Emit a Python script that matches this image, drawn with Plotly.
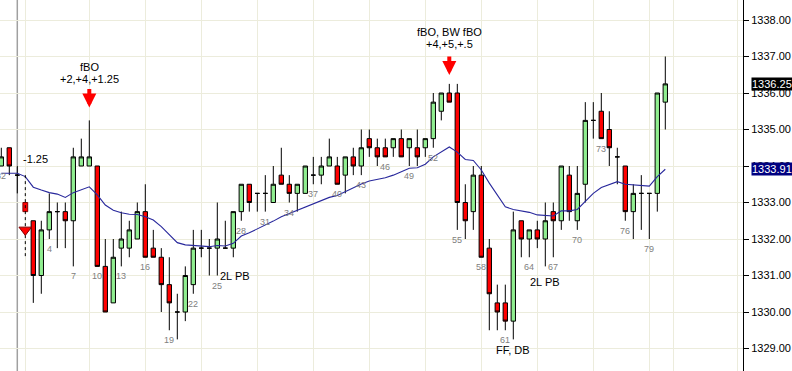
import plotly.graph_objects as go

# ---------------- data ----------------
bar_index = list(range(-2, 82))
opens = [1334.0, 1334.5, 1333.75, 1333.0, 1332.5, 1331.0, 1332.25, 1332.75, 1332.75, 1332.5,
         1334.0, 1334.0, 1334.0, 1331.25, 1330.25, 1331.75, 1331.75, 1332.0, 1332.75, 1331.75,
         1331.5, 1330.75, 1330.0, 1330.0, 1330.75, 1331.75, 1331.75, 1331.75, 1331.75, 1331.75,
         1332.75, 1333.5, 1333.25, 1333.25, 1333.0, 1333.75, 1333.5, 1333.25, 1333.25, 1333.75,
         1333.75, 1334.0, 1334.0, 1333.75, 1334.25, 1334.0, 1334.75, 1334.5, 1334.5, 1334.5,
         1334.75, 1334.5, 1334.5, 1334.5, 1334.75, 1335.5, 1336.0, 1336.0, 1333.0, 1332.75,
         1333.75, 1331.75, 1330.25, 1330.25, 1329.75, 1332.5, 1332.0, 1332.25, 1332.0, 1332.75,
         1332.5, 1333.75, 1332.5, 1333.5, 1335.25, 1335.5, 1335.0, 1334.25, 1334.0, 1332.75,
         1333.25, 1333.25, 1333.25, 1335.75]
highs = [1334.5, 1334.5, 1334.0, 1333.75, 1332.5, 1332.5, 1333.25, 1333.0, 1333.0, 1334.5,
         1334.75, 1335.25, 1334.0, 1332.0, 1332.0, 1332.75, 1332.5, 1333.0, 1333.5, 1332.25,
         1331.75, 1331.5, 1330.5, 1331.25, 1332.25, 1332.25, 1332.0, 1333.0, 1332.5, 1332.75,
         1333.5, 1333.5, 1333.25, 1333.75, 1334.0, 1334.5, 1333.75, 1333.5, 1334.0, 1334.25,
         1334.25, 1334.75, 1334.25, 1334.25, 1334.5, 1335.0, 1335.0, 1334.75, 1334.75, 1334.75,
         1335.0, 1334.75, 1335.0, 1334.75, 1336.0, 1336.0, 1336.25, 1336.25, 1333.5, 1334.0,
         1334.0, 1332.0, 1330.75, 1330.75, 1332.75, 1332.5, 1332.25, 1332.5, 1333.0, 1333.0,
         1334.0, 1334.0, 1334.0, 1335.75, 1335.75, 1336.0, 1335.5, 1334.5, 1334.0, 1333.5,
         1333.75, 1333.25, 1336.0, 1337.0]
lows = [1334.0, 1333.75, 1333.25, 1331.5, 1330.25, 1330.5, 1332.0, 1331.75, 1331.75, 1331.25,
        1334.0, 1334.0, 1331.25, 1330.0, 1330.25, 1331.25, 1331.5, 1332.0, 1331.5, 1331.5,
        1330.0, 1329.5, 1329.25, 1329.75, 1330.5, 1331.5, 1331.0, 1331.0, 1331.75, 1331.5,
        1332.5, 1332.75, 1332.75, 1332.75, 1333.0, 1333.5, 1333.0, 1332.75, 1333.25, 1333.5,
        1333.5, 1334.0, 1333.5, 1333.25, 1333.75, 1333.75, 1334.25, 1334.0, 1334.25, 1334.25,
        1334.25, 1334.0, 1334.0, 1334.25, 1334.5, 1335.25, 1335.75, 1332.25, 1332.0, 1332.25,
        1331.5, 1329.5, 1329.5, 1329.5, 1329.25, 1331.5, 1331.5, 1331.75, 1331.25, 1331.5,
        1332.25, 1332.5, 1332.25, 1333.0, 1334.75, 1334.75, 1334.0, 1333.5, 1332.5, 1332.0,
        1332.25, 1332.0, 1332.75, 1335.0]
closes = [1334.25, 1334.0, 1333.75, 1332.75, 1331.0, 1332.25, 1332.75, 1332.75, 1332.5, 1334.25,
          1334.25, 1334.25, 1331.25, 1330.0, 1331.5, 1332.0, 1332.25, 1332.75, 1331.5, 1331.5,
          1330.75, 1330.25, 1330.0, 1331.0, 1331.75, 1331.75, 1331.75, 1332.0, 1331.75, 1332.75,
          1333.5, 1333.0, 1333.25, 1333.25, 1333.5, 1333.5, 1333.25, 1333.5, 1334.0, 1333.75,
          1334.0, 1334.25, 1333.5, 1334.25, 1334.0, 1334.5, 1334.5, 1334.25, 1334.25, 1334.75,
          1334.25, 1334.75, 1334.25, 1334.75, 1335.75, 1336.0, 1335.75, 1333.0, 1332.5, 1333.75,
          1331.5, 1330.5, 1330.0, 1329.75, 1332.25, 1332.0, 1332.25, 1332.0, 1332.5, 1332.5,
          1334.0, 1332.75, 1333.25, 1335.25, 1335.25, 1334.75, 1334.5, 1334.25, 1332.75, 1333.25,
          1333.25, 1333.25, 1336.0, 1336.25]
ma_values = [1333.80, 1333.80, 1333.80, 1333.71, 1333.42, 1333.34, 1333.27, 1333.23, 1333.14, 1333.27,
             1333.34, 1333.43, 1333.21, 1332.93, 1332.79, 1332.72, 1332.68, 1332.67, 1332.61, 1332.52,
             1332.34, 1332.11, 1331.90, 1331.84, 1331.83, 1331.82, 1331.79, 1331.82, 1331.81, 1331.88,
             1332.08, 1332.17, 1332.27, 1332.38, 1332.49, 1332.61, 1332.70, 1332.77, 1332.86, 1332.95,
             1333.04, 1333.14, 1333.19, 1333.30, 1333.41, 1333.51, 1333.59, 1333.63, 1333.68, 1333.75,
             1333.84, 1333.94, 1333.95, 1334.05, 1334.25, 1334.39, 1334.52, 1334.38, 1334.18, 1334.15,
             1333.89, 1333.53, 1333.22, 1332.88, 1332.81, 1332.77, 1332.73, 1332.66, 1332.64, 1332.63,
             1332.77, 1332.77, 1332.81, 1333.02, 1333.25, 1333.41, 1333.50, 1333.57, 1333.50, 1333.48,
             1333.47, 1333.45, 1333.71, 1333.91]

signal_bar = 1           # dotted (pending) bar
signal_price = 1332.25   # entry marker
signal_text = "-1.25"

number_label_bars = [-2, 4, 7, 10, 13, 16, 19, 22, 25, 28, 31, 34, 37, 40, 43, 46, 49, 52,
                     55, 58, 61, 64, 67, 70, 73, 76, 79]
number_label_texts = ["82"] + [str(b) for b in number_label_bars[1:]]

arrow_bars = [9, 54]
arrow_line1 = ["fBO", "fBO, BW fBO"]
arrow_line2 = ["+2,+4,+1.25", "+4,+5,+.5"]

note_bars = [25, 66, 62]
note_texts = ["2L PB", "2L PB", "FF, DB"]

price_ticks = [1329, 1330, 1331, 1332, 1333, 1334, 1335, 1336, 1337, 1338]
vgrid_bars = [1, 9, 16, 23, 30, 37, 44, 51, 58, 65, 72, 79, 82, 90]
session_bar = 0

# ---------------- figure ----------------
pos = {b: k for k, b in enumerate(bar_index)}
normal = [b for b in bar_index if b != signal_bar]

fig = go.Figure()

fig.add_trace(go.Scatter(
    x=bar_index, y=ma_values, mode="lines",
    line=dict(color="#28289C", width=1.1), hoverinfo="skip"))

fig.add_trace(go.Candlestick(
    x=normal,
    open=[opens[pos[b]] for b in normal],
    high=[highs[pos[b]] for b in normal],
    low=[lows[pos[b]] for b in normal],
    close=[closes[pos[b]] for b in normal],
    increasing=dict(fillcolor="#90EE90", line=dict(color="black", width=1)),
    decreasing=dict(fillcolor="#FF0000", line=dict(color="black", width=1)),
    whiskerwidth=0))

k = pos[signal_bar]
fig.add_trace(go.Scatter(
    x=[signal_bar, signal_bar], y=[highs[k], lows[k]], mode="lines",
    line=dict(color="black", width=1, dash="dot"), hoverinfo="skip"))
fig.add_trace(go.Bar(
    x=[signal_bar], y=[opens[k] - closes[k]], base=[closes[k]], width=0.6,
    marker=dict(color="#FF0000", line=dict(color="#800000", width=1)), hoverinfo="skip"))
fig.add_trace(go.Scatter(
    x=[signal_bar], y=[signal_price], mode="markers",
    marker=dict(symbol="triangle-down", size=11, color="#FF0000",
                line=dict(color="#800000", width=1)), hoverinfo="skip"))

x_lo = -17.3 / 8
x_hi = x_lo + 743 / 8
y_hi = 1338 + 20 / 36.5
y_lo = 1338 - 351 / 36.5

# price markers on the axis
for val, col in [(closes[-1], "black"), (ma_values[-1], "#000080")]:
    fig.add_trace(go.Scatter(
        x=[x_hi + 0.55], y=[val], mode="markers", cliponaxis=False,
        marker=dict(symbol="triangle-left", size=12, color=col), hoverinfo="skip"))

annotations = []
font_main = dict(family="Arial", size=11, color="black")
for b, t in zip(number_label_bars, number_label_texts):
    annotations.append(dict(x=b, y=lows[pos[b]], text=t, showarrow=False, yanchor="top",
                            yshift=-3, font=dict(family="Arial", size=9, color="#808080")))

arrow_tip = [13, 9]
text_off = [41, 40]
for b, l1, l2, tip, off in zip(arrow_bars, arrow_line1, arrow_line2, arrow_tip, text_off):
    h = highs[pos[b]]
    annotations.append(dict(x=b, y=h, text=l2, showarrow=False, yanchor="middle",
                            yshift=off, font=font_main))
    annotations.append(dict(x=b, y=h, text=l1, showarrow=False, yanchor="middle",
                            yshift=off + 12, font=font_main))
    annotations.append(dict(x=b, y=h, text="", showarrow=True, ax=0, ay=-20, yshift=tip,
                            arrowcolor="#FF0000", arrowwidth=4, arrowhead=2, arrowsize=0.7))

annotations.append(dict(x=signal_bar, y=highs[k], text=signal_text, showarrow=False,
                        xanchor="left", yanchor="middle", xshift=-4, yshift=16, font=font_main))

annotations.append(dict(x=note_bars[0], y=lows[pos[note_bars[0]]], text=note_texts[0],
                        showarrow=False, xanchor="left", yanchor="middle", xshift=1, yshift=0,
                        font=font_main))
annotations.append(dict(x=note_bars[1], y=lows[pos[note_bars[1]]], text=note_texts[1],
                        showarrow=False, xanchor="center", yanchor="middle", yshift=-16,
                        font=font_main))
annotations.append(dict(x=note_bars[2], y=lows[pos[note_bars[2]]], text=note_texts[2],
                        showarrow=False, xanchor="center", yanchor="middle", yshift=-11,
                        font=font_main))

for val, col in [(closes[-1], "black"), (ma_values[-1], "#000080")]:
    annotations.append(dict(xref="paper", x=1, y=val, text=f"{val:.2f}", showarrow=False,
                            xanchor="left", yanchor="middle", xshift=8, bgcolor=col,
                            borderpad=0,
                            font=dict(family="Arial", size=11, color="white")))

fig.update_layout(
    width=792, height=371,
    margin=dict(l=0, r=49, t=0, b=0),
    paper_bgcolor="white", plot_bgcolor="white",
    showlegend=False,
    boxgap=0.22,
    annotations=annotations,
    shapes=[dict(type="line", xref="x", yref="paper", x0=session_bar, x1=session_bar,
                 y0=0, y1=1, line=dict(color="#A0A0A0", width=1.5), layer="below")],
    xaxis=dict(range=[x_lo, x_hi], showticklabels=False, ticks="", showgrid=True,
               gridcolor="#ECECDC", gridwidth=1, tickvals=vgrid_bars, zeroline=False,
               showline=False, rangeslider=dict(visible=False), fixedrange=True),
    yaxis=dict(range=[y_lo, y_hi], side="right", tickvals=price_ticks,
               ticktext=[f"{v:.2f}" for v in price_ticks], ticks="outside", ticklen=5,
               tickcolor="black", showline=True, linecolor="black", linewidth=1,
               showgrid=True, gridcolor="#ECECDC", gridwidth=1, zeroline=False,
               tickfont=dict(family="Arial", size=11, color="black"), fixedrange=True),
)

fig.write_html("out.html")
